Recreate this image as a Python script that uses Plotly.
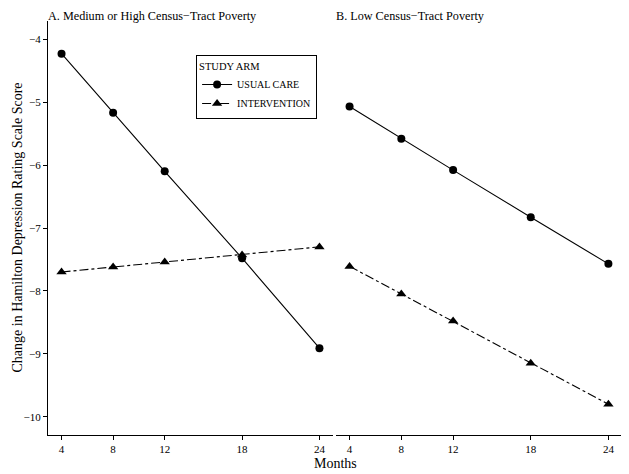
import plotly.graph_objects as go

# months of follow-up
months = [4, 8, 12, 18, 24]

# A. medium or high census-tract poverty
a_usual_care = [-4.23, -5.17, -6.10, -7.48, -8.91]
a_intervention = [-7.70, -7.62, -7.54, -7.43, -7.30]

# B. low census-tract poverty
b_usual_care = [-5.07, -5.58, -6.08, -6.83, -7.57]
b_intervention = [-7.61, -8.05, -8.48, -9.15, -9.80]

y_ticks = [-4, -5, -6, -7, -8, -9, -10]

FONT = "Liberation Serif"


def add_arm(fig, x, y, name, symbol, dash, xaxis, showlegend):
    fig.add_trace(
        go.Scatter(
            x=x,
            y=y,
            name=name,
            mode="lines+markers",
            line=dict(color="black", width=1.1, dash=dash),
            marker=dict(symbol=symbol, size=8 if symbol == "circle" else 9, color="black"),
            xaxis=xaxis,
            yaxis="y",
            showlegend=showlegend,
            legendgroup=name,
        )
    )


fig = go.Figure()
add_arm(fig, months, a_usual_care, "USUAL CARE", "circle", "solid", "x", True)
add_arm(fig, months, a_intervention, "INTERVENTION", "triangle-up", "dashdot", "x", True)
add_arm(fig, months, b_usual_care, "USUAL CARE", "circle", "solid", "x2", False)
add_arm(fig, months, b_intervention, "INTERVENTION", "triangle-up", "dashdot", "x2", False)

xaxis_style = dict(
    range=[2.95, 25.05],
    tickvals=months,
    showline=True,
    linecolor="black",
    linewidth=1.2,
    ticks="outside",
    ticklen=4,
    tickcolor="black",
    showgrid=False,
    zeroline=False,
    automargin=False,
    tickfont=dict(size=11, color="black"),
)

# the page body adds 8px around the figure, so the figure is a bit smaller
fig.update_layout(
    width=621,
    height=466,
    margin=dict(l=40, r=7, t=13, b=39, autoexpand=False),
    plot_bgcolor="white",
    paper_bgcolor="white",
    font=dict(family=FONT, color="black"),
    xaxis=dict(domain=[0, 0.4965], anchor="y", **xaxis_style),
    xaxis2=dict(domain=[0.5017, 1], anchor="y", **xaxis_style),
    yaxis=dict(
        range=[-10.29, -3.71],
        tickvals=y_ticks,
        showline=True,
        linecolor="black",
        linewidth=1.2,
        ticks="outside",
        ticklen=4,
        tickcolor="black",
        showgrid=False,
        zeroline=False,
        automargin=False,
        tickfont=dict(size=11, color="black"),
    ),
    legend=dict(
        x=0.258,
        y=0.917,
        xanchor="left",
        yanchor="top",
        bordercolor="black",
        borderwidth=1,
        bgcolor="white",
        font=dict(size=10),
        title=dict(text="STUDY ARM", font=dict(size=10.5)),
        itemwidth=30,
        tracegroupgap=0,
    ),
    showlegend=True,
)

fig.add_annotation(
    text="Change in Hamilton Depression Rating Scale Score", xref="paper", yref="paper",
    x=0, y=0.5, xshift=-41, textangle=-90, showarrow=False, font=dict(size=14),
)
fig.add_annotation(
    text="Months", xref="paper", yref="paper", x=0.5, y=0,
    yshift=-19, yanchor="top", showarrow=False, font=dict(size=14),
)
fig.add_annotation(
    text="A. Medium or High Census\u2212Tract Poverty", xref="paper", yref="paper",
    x=0, y=1, xanchor="left", yanchor="bottom", showarrow=False,
    font=dict(size=12.2), xshift=-2, yshift=-4,
)
fig.add_annotation(
    text="B. Low Census\u2212Tract Poverty", xref="paper", yref="paper",
    x=0.5017, y=1, xanchor="left", yanchor="bottom", showarrow=False,
    font=dict(size=12.2), xshift=-2, yshift=-4,
)

fig.write_html("out.html")
